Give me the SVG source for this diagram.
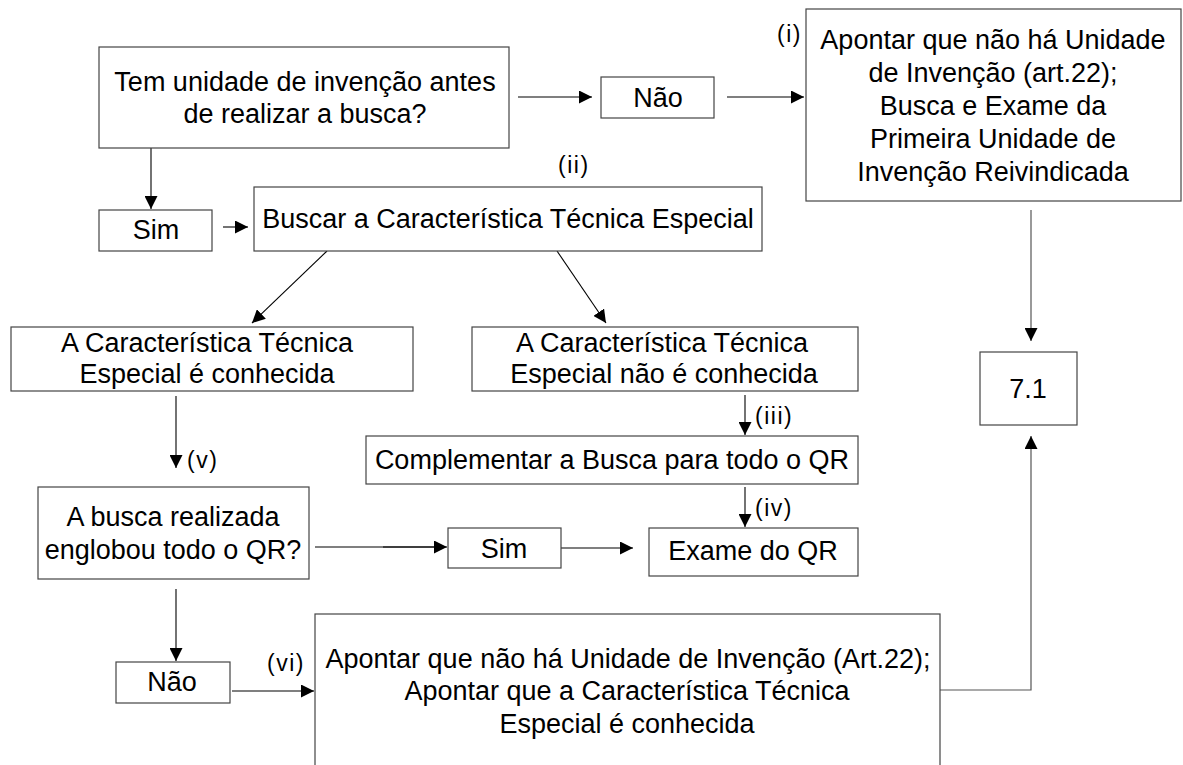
<svg xmlns="http://www.w3.org/2000/svg" width="1183" height="765" viewBox="0 0 1183 765">
<defs>
<marker id="ah" markerUnits="userSpaceOnUse" markerWidth="13" markerHeight="13" refX="13" refY="6.5" orient="auto">
<path d="M0,0 L13,6.5 L0,13 z" fill="#000"/>
</marker>
<style>
.box{fill:#fff;stroke:#444;stroke-width:1.2}
.t{font-family:"Liberation Sans",Arial,sans-serif;font-size:27px;fill:#000;text-anchor:middle}
.lb{font-family:"Liberation Sans",Arial,sans-serif;font-size:23px;fill:#000;letter-spacing:1.5px}
.c{fill:none;stroke:#000;stroke-width:1.1}
.cg{fill:none;stroke:#555;stroke-width:1.2}
</style>
</defs>
<rect width="1183" height="765" fill="#fff"/>
<g id="connectors">
<path class="c" d="M518,97 H592" marker-end="url(#ah)"/>
<path class="c" d="M727,97 H804" marker-end="url(#ah)"/>
<path class="cg" d="M1031,210 V341" marker-end="url(#ah)"/>
<path class="c" d="M151,148 V209" marker-end="url(#ah)"/>
<path class="c" d="M223,227 H248" marker-end="url(#ah)"/>
<path class="c" d="M327,251 L252,323" marker-end="url(#ah)"/>
<path class="c" d="M557,251 L606,323" marker-end="url(#ah)"/>
<path class="c" d="M176,396 V468" marker-end="url(#ah)"/>
<path class="c" d="M745,395 V435" marker-end="url(#ah)"/>
<path class="c" d="M745,487 V527" marker-end="url(#ah)"/>
<path class="c" d="M315,547 H447" marker-end="url(#ah)"/>
<path class="c" d="M383,547 H436" stroke-width="2"/>
<path class="c" d="M561,548 H633" marker-end="url(#ah)"/>
<path class="c" d="M176,589 V661" marker-end="url(#ah)"/>
<path class="c" d="M232,691 H314" marker-end="url(#ah)"/>
<path class="cg" d="M940,690 H1031 V436" marker-end="url(#ah)"/>
</g>
<g id="n-tem">
<rect class="box" x="99" y="47" width="410" height="101"/>
<text class="t" x="305" y="91">Tem unidade de invenção antes</text>
<text class="t" x="305" y="123">de realizar a busca?</text>
</g>
<g id="n-nao1">
<rect class="box" x="601" y="77" width="113" height="41"/>
<text class="t" x="658" y="107">Não</text>
</g>
<g id="n-apontar1">
<rect class="box" x="806" y="9" width="375" height="192"/>
<text class="t" x="993" y="49">Apontar que não há Unidade</text>
<text class="t" x="993" y="82">de Invenção (art.22);</text>
<text class="t" x="993" y="115">Busca e Exame da</text>
<text class="t" x="993" y="148">Primeira Unidade de</text>
<text class="t" x="993" y="181">Invenção Reivindicada</text>
<text class="lb" x="777" y="42">(i)</text>
</g>
<g id="n-71">
<rect class="box" x="980" y="352" width="97" height="73"/>
<text class="t" x="1028" y="398">7.1</text>
</g>
<g id="n-sim1">
<rect class="box" x="99" y="210" width="113" height="41"/>
<text class="t" x="156" y="239">Sim</text>
</g>
<g id="n-buscar">
<rect class="box" x="254" y="187" width="508" height="64"/>
<text class="t" x="508" y="228">Buscar a Característica Técnica Especial</text>
<text class="lb" x="558" y="173">(ii)</text>
</g>
<g id="n-conhecida">
<rect class="box" x="11" y="327" width="402" height="64"/>
<text class="t" x="207" y="352">A Característica Técnica</text>
<text class="t" x="207" y="383">Especial é conhecida</text>
</g>
<g id="n-naoconhecida">
<rect class="box" x="472" y="327" width="386" height="64"/>
<text class="t" x="662" y="352">A Característica Técnica</text>
<text class="t" x="664" y="383">Especial não é conhecida</text>
</g>
<g id="n-complementar">
<rect class="box" x="366" y="436" width="492" height="48"/>
<text class="t" x="612" y="469">Complementar a Busca para todo o QR</text>
<text class="lb" x="755" y="424">(iii)</text>
</g>
<g id="n-exame">
<rect class="box" x="649" y="528" width="209" height="48"/>
<text class="t" x="753" y="560">Exame do QR</text>
<text class="lb" x="755" y="516">(iv)</text>
</g>
<g id="n-busca">
<rect class="box" x="38" y="487" width="271" height="92"/>
<text class="t" x="173" y="526">A busca realizada</text>
<text class="t" x="173" y="559">englobou todo o QR?</text>
<text class="lb" x="187" y="468">(v)</text>
</g>
<g id="n-sim2">
<rect class="box" x="448" y="528" width="113" height="40"/>
<text class="t" x="504" y="558">Sim</text>
</g>
<g id="n-nao2">
<rect class="box" x="116" y="662" width="114" height="41"/>
<text class="t" x="172" y="691">Não</text>
</g>
<g id="n-apontar2">
<rect class="box" x="315" y="614" width="625" height="170"/>
<text class="t" x="628" y="668">Apontar que não há Unidade de Invenção (Art.22);</text>
<text class="t" x="627" y="700">Apontar que a Característica Técnica</text>
<text class="t" x="627" y="733">Especial é conhecida</text>
<text class="lb" x="267" y="671">(vi)</text>
</g>
</svg>
